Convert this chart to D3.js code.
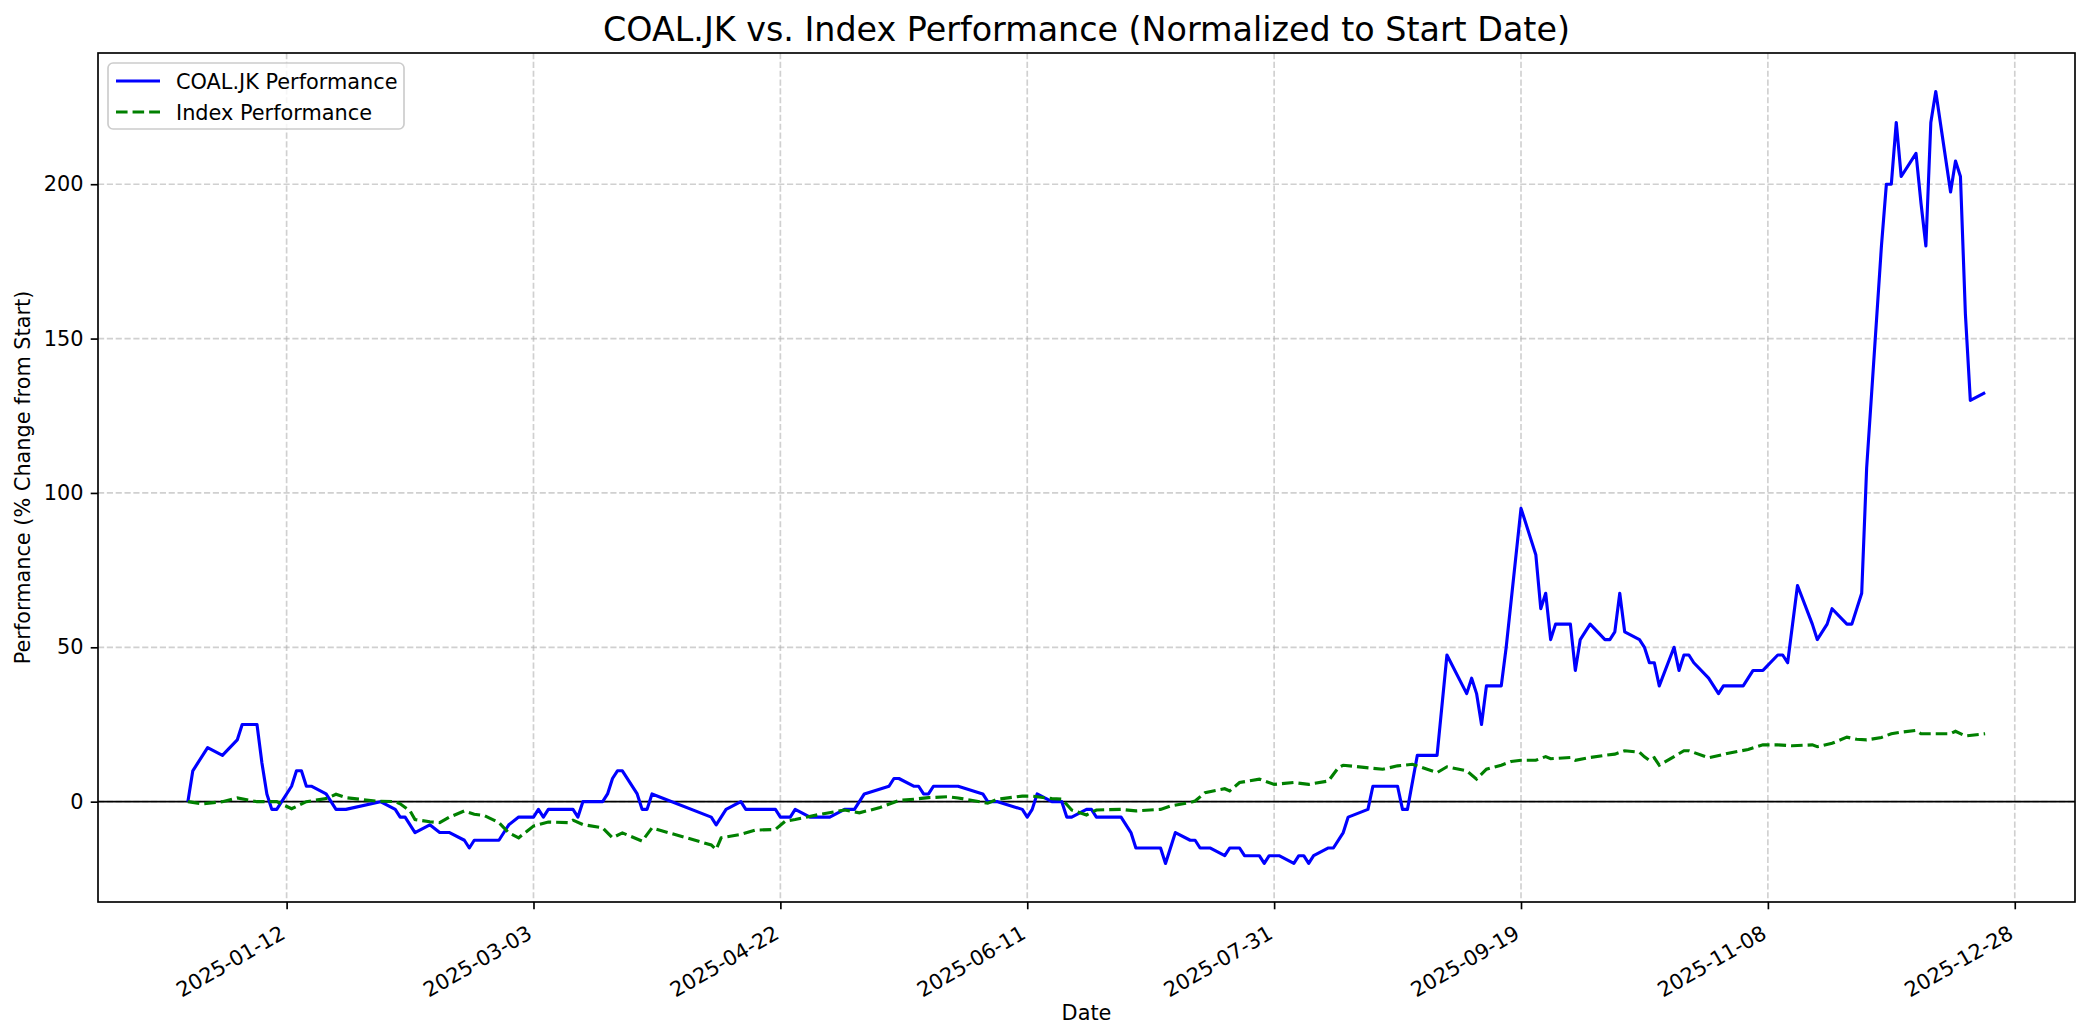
<!DOCTYPE html>
<html>
<head>
<meta charset="utf-8">
<script src="https://cdn.jsdelivr.net/npm/d3@7"></script>
<style>
  body { margin: 0; background: #fff; }
  text { font-family: "DejaVu Sans", sans-serif; }
</style>
</head>
<body>
<div id="chart"></div>
<script>
// COAL.JK, % change from first close
const coalDates = [
  "2024-12-23","2024-12-24","2024-12-27","2024-12-30","2025-01-02","2025-01-03","2025-01-06","2025-01-07",
  "2025-01-08","2025-01-09","2025-01-10","2025-01-13","2025-01-14","2025-01-15","2025-01-16","2025-01-17",
  "2025-01-20","2025-01-22","2025-01-24","2025-01-31","2025-02-03","2025-02-04","2025-02-05","2025-02-07",
  "2025-02-10","2025-02-12","2025-02-14","2025-02-17","2025-02-18","2025-02-19","2025-02-24","2025-02-26",
  "2025-02-28","2025-03-03","2025-03-04","2025-03-05","2025-03-06","2025-03-11","2025-03-12","2025-03-13",
  "2025-03-17","2025-03-18","2025-03-19","2025-03-20","2025-03-21","2025-03-24","2025-03-25","2025-03-26",
  "2025-03-27","2025-04-08","2025-04-09","2025-04-11","2025-04-14","2025-04-15","2025-04-21","2025-04-22",
  "2025-04-24","2025-04-25","2025-04-28","2025-05-02","2025-05-05","2025-05-07","2025-05-09","2025-05-14",
  "2025-05-15","2025-05-16","2025-05-19","2025-05-20","2025-05-21","2025-05-22","2025-05-23","2025-05-28",
  "2025-06-02","2025-06-03","2025-06-05","2025-06-10","2025-06-11","2025-06-12","2025-06-13","2025-06-16",
  "2025-06-18","2025-06-19","2025-06-20","2025-06-23","2025-06-24","2025-06-25","2025-06-30","2025-07-02",
  "2025-07-03","2025-07-08","2025-07-09","2025-07-11","2025-07-14","2025-07-15","2025-07-16","2025-07-18",
  "2025-07-21","2025-07-22","2025-07-24","2025-07-25","2025-07-28","2025-07-29","2025-07-30","2025-08-01",
  "2025-08-04","2025-08-05","2025-08-06","2025-08-07","2025-08-08","2025-08-11","2025-08-12","2025-08-14",
  "2025-08-15","2025-08-19","2025-08-20","2025-08-25","2025-08-26","2025-08-27","2025-08-29","2025-09-02",
  "2025-09-04","2025-09-08","2025-09-09","2025-09-10","2025-09-11","2025-09-12","2025-09-15","2025-09-16",
  "2025-09-19","2025-09-22","2025-09-23","2025-09-24","2025-09-25","2025-09-26","2025-09-29","2025-09-30",
  "2025-10-01","2025-10-03","2025-10-06","2025-10-07","2025-10-08","2025-10-09","2025-10-10","2025-10-13",
  "2025-10-14","2025-10-15","2025-10-16","2025-10-17","2025-10-20","2025-10-21","2025-10-22","2025-10-23",
  "2025-10-24","2025-10-27","2025-10-29","2025-10-30","2025-11-03","2025-11-05","2025-11-07","2025-11-10",
  "2025-11-11","2025-11-12","2025-11-14","2025-11-17","2025-11-18","2025-11-20","2025-11-21","2025-11-24",
  "2025-11-25","2025-11-27","2025-11-28","2025-12-01","2025-12-02","2025-12-03","2025-12-04","2025-12-05",
  "2025-12-08","2025-12-09","2025-12-10","2025-12-11","2025-12-12","2025-12-15","2025-12-16","2025-12-17",
  "2025-12-18","2025-12-19","2025-12-22"
];
const coalValues = [
  0, 10, 17.5, 15, 20, 25, 25, 12.5,
  2.5, -2.5, -2.5, 5, 10, 10, 5, 5,
  2.5, -2.5, -2.5, 0, -2.5, -5, -5, -10,
  -7.5, -10, -10, -12.5, -15, -12.5, -12.5, -7.5,
  -5, -5, -2.5, -5, -2.5, -2.5, -5, 0,
  0, 2.5, 7.5, 10, 10, 2.5, -2.5, -2.5,
  2.5, -5, -7.5, -2.5, 0, -2.5, -2.5, -5,
  -5, -2.5, -5, -5, -2.5, -2.5, 2.5, 5,
  7.5, 7.5, 5, 5, 2.5, 2.5, 5, 5,
  2.5, 0, 0, -2.5, -5, -2.5, 2.5, 0,
  0, -5, -5, -2.5, -2.5, -5, -5, -10,
  -15, -15, -20, -10, -12.5, -12.5, -15, -15,
  -17.5, -15, -15, -17.5, -17.5, -20, -17.5, -17.5,
  -20, -17.5, -17.5, -20, -17.5, -15, -15, -10,
  -5, -2.5, 5, 5, -2.5, -2.5, 15, 15,
  47.5, 35, 40, 35, 25, 37.5, 37.5, 50,
  95, 80, 62.5, 67.5, 52.5, 57.5, 57.5, 42.5,
  52.5, 57.5, 52.5, 52.5, 55, 67.5, 55, 52.5,
  50, 45, 45, 37.5, 50, 42.5, 47.5, 47.5,
  45, 40, 35, 37.5, 37.5, 42.5, 42.5, 47.5,
  47.5, 45, 70, 57.5, 52.5, 57.5, 62.5, 57.5,
  57.5, 67.5, 108, 180, 200, 200, 220, 202.5,
  210, 194, 180, 220, 230, 197.5, 207.5, 202.5,
  158, 130, 132.5
];

// Index, % change from first close
const indexDates = [
  "2024-12-23","2024-12-26","2024-12-30","2025-01-02","2025-01-06","2025-01-10","2025-01-13","2025-01-16",
  "2025-01-20","2025-01-22","2025-01-24","2025-01-30","2025-02-03","2025-02-04","2025-02-06","2025-02-07",
  "2025-02-10","2025-02-12","2025-02-14","2025-02-17","2025-02-19","2025-02-21","2025-02-24","2025-02-26",
  "2025-02-28","2025-03-03","2025-03-06","2025-03-10","2025-03-11","2025-03-13","2025-03-17","2025-03-19",
  "2025-03-21","2025-03-25","2025-03-27","2025-04-08","2025-04-09","2025-04-10","2025-04-14","2025-04-17",
  "2025-04-21","2025-04-23","2025-04-25","2025-04-30","2025-05-05","2025-05-08","2025-05-12","2025-05-16",
  "2025-05-19","2025-05-22","2025-05-26","2025-05-28","2025-06-03","2025-06-05","2025-06-10","2025-06-12",
  "2025-06-16","2025-06-18","2025-06-19","2025-06-20","2025-06-23","2025-06-25","2025-06-30","2025-07-03",
  "2025-07-08","2025-07-10","2025-07-14","2025-07-15","2025-07-17","2025-07-21","2025-07-22","2025-07-24",
  "2025-07-28","2025-07-31","2025-08-04","2025-08-07","2025-08-11","2025-08-13","2025-08-14","2025-08-20",
  "2025-08-22","2025-08-25","2025-08-28","2025-09-02","2025-09-04","2025-09-08","2025-09-10","2025-09-12",
  "2025-09-15","2025-09-17","2025-09-19","2025-09-22","2025-09-24","2025-09-25","2025-09-29","2025-09-30",
  "2025-10-03","2025-10-06","2025-10-08","2025-10-10","2025-10-13","2025-10-14","2025-10-15","2025-10-16",
  "2025-10-17","2025-10-20","2025-10-22","2025-10-23","2025-10-27","2025-10-30","2025-10-31","2025-11-04",
  "2025-11-07","2025-11-10","2025-11-13","2025-11-17","2025-11-18","2025-11-21","2025-11-24","2025-11-26",
  "2025-11-28","2025-12-01","2025-12-03","2025-12-05","2025-12-08","2025-12-09","2025-12-11","2025-12-15",
  "2025-12-16","2025-12-18","2025-12-22"
];
const indexValues = [
  0, -0.7, 0, 1.2, 0, 0, -2.3, 0,
  1, 2.4, 1.3, 0.2, 0, -0.7, -3, -5.8,
  -6.5, -6.8, -5, -3, -4.1, -4.5, -6.8, -10.1,
  -11.7, -7.9, -6.6, -6.8, -6, -7.4, -8.5, -11.7,
  -10.1, -12.8, -8.5, -14, -15.5, -11.7, -10.6, -9.2,
  -9, -6.3, -5.8, -4.1, -2.7, -3.6, -2, 0.4,
  0.8, 1.3, 1.6, 1.2, -0.5, 0.8, 1.8, 1.8,
  1, 0.8, -0.9, -2.7, -4.3, -2.7, -2.5, -3,
  -2.5, -1.4, -0.3, 0.2, 2.9, 4.2, 3.5, 6.2,
  7.3, 5.6, 6.2, 5.6, 6.7, 11, 11.8, 10.8,
  10.5, 11.6, 12.1, 9.4, 11.3, 10, 7.3, 10.5,
  11.8, 13, 13.4, 13.4, 14.6, 13.9, 14.3, 13.4,
  14.3, 15, 15.4, 16.5, 16, 14.5, 13.4, 14.2,
  11.8, 14.6, 16.5, 16.5, 14.2, 15.3, 15.7, 16.9,
  18.4, 18.4, 18.1, 18.4, 17.8, 18.9, 20.9, 20.2,
  20, 20.8, 22, 22.5, 23.1, 22, 22, 22,
  22.8, 21.3, 22
];

const xTickLabels = ["2025-01-12","2025-03-03","2025-04-22","2025-06-11","2025-07-31","2025-09-19","2025-11-08","2025-12-28"];
const yTickValues = [0, 50, 100, 150, 200];
const seriesNames = ["COAL.JK Performance", "Index Performance"];

const W = 2084, H = 1035;
const margin = { top: 53, right: 9, bottom: 133, left: 98 };
const width = W - margin.left - margin.right;
const height = H - margin.top - margin.bottom;
const pt = 150 / 72;

const parse = d3.timeParse("%Y-%m-%d");
const coal = coalDates.map((d, i) => ({ date: parse(d), value: coalValues[i] }));
const index = indexDates.map((d, i) => ({ date: parse(d), value: indexValues[i] }));
const all = coal.concat(index);

// matplotlib-like 5% margins
const xExt = d3.extent(all, d => d.date);
const xPad = (xExt[1] - xExt[0]) * 0.05;
const yExt = d3.extent(all, d => d.value);
const yPad = (yExt[1] - yExt[0]) * 0.05;

const x = d3.scaleTime()
    .domain([new Date(+xExt[0] - xPad), new Date(+xExt[1] + xPad)])
    .range([0, width]);
const y = d3.scaleLinear()
    .domain([yExt[0] - yPad, yExt[1] + yPad])
    .range([height, 0]);

const svg = d3.select("#chart").append("svg")
    .attr("width", W).attr("height", H);

svg.append("text")
    .attr("x", margin.left + width / 2).attr("y", 41)
    .attr("text-anchor", "middle")
    .attr("font-size", 16 * pt)
    .text("COAL.JK vs. Index Performance (Normalized to Start Date)");

const g = svg.append("g").attr("transform", `translate(${margin.left},${margin.top})`);

const xTicks = xTickLabels.map(parse);

// grid
g.append("g").selectAll("line").data(xTicks).join("line")
    .attr("x1", d => x(d)).attr("x2", d => x(d))
    .attr("y1", 0).attr("y2", height)
    .attr("stroke", "#b0b0b0").attr("stroke-opacity", 0.6)
    .attr("stroke-width", 0.8 * pt).attr("stroke-dasharray", `${2.96 * pt},${1.28 * pt}`);
g.append("g").selectAll("line").data(yTickValues).join("line")
    .attr("x1", 0).attr("x2", width)
    .attr("y1", d => y(d)).attr("y2", d => y(d))
    .attr("stroke", "#b0b0b0").attr("stroke-opacity", 0.6)
    .attr("stroke-width", 0.8 * pt).attr("stroke-dasharray", `${2.96 * pt},${1.28 * pt}`);

// zero line
g.append("line")
    .attr("x1", 0).attr("x2", width)
    .attr("y1", y(0)).attr("y2", y(0))
    .attr("stroke", "#000").attr("stroke-width", 0.8 * pt);

const line = d3.line().x(d => x(d.date)).y(d => y(d.value));

g.append("path").datum(coal)
    .attr("d", line).attr("fill", "none")
    .attr("stroke", "blue").attr("stroke-width", 1.5 * pt)
    .attr("stroke-linejoin", "round");

g.append("path").datum(index)
    .attr("d", line).attr("fill", "none")
    .attr("stroke", "green").attr("stroke-width", 1.5 * pt)
    .attr("stroke-dasharray", `${5.55 * pt},${2.4 * pt}`);

// axes
const xAxis = g.append("g")
    .attr("transform", `translate(0,${height})`)
    .call(d3.axisBottom(x).tickValues(xTicks).tickFormat(d3.timeFormat("%Y-%m-%d"))
        .tickSize(3.5 * pt).tickSizeOuter(0).tickPadding(0));
xAxis.select(".domain").remove();
xAxis.selectAll("text")
    .attr("font-size", 10 * pt)
    .attr("text-anchor", "end")
    .attr("dy", "0.76em")
    .attr("transform", `translate(-12,${3.5 * pt + 8}) rotate(-30)`);

const yAxis = g.append("g")
    .call(d3.axisLeft(y).tickValues(yTickValues).tickSize(3.5 * pt).tickSizeOuter(0).tickPadding(3.5 * pt));
yAxis.select(".domain").remove();
yAxis.selectAll("text").attr("font-size", 10 * pt);

g.selectAll(".tick line").attr("stroke", "#000").attr("stroke-width", 0.8 * pt);
g.selectAll(".tick text").attr("fill", "#000").attr("font-family", "DejaVu Sans");

// spines
g.append("rect")
    .attr("width", width).attr("height", height)
    .attr("fill", "none").attr("stroke", "#000").attr("stroke-width", 0.8 * pt);

// axis labels
svg.append("text")
    .attr("x", margin.left + width / 2).attr("y", 1020)
    .attr("text-anchor", "middle").attr("font-size", 10 * pt)
    .text("Date");
svg.append("text")
    .attr("transform", `translate(30,${margin.top + height / 2}) rotate(-90)`)
    .attr("text-anchor", "middle").attr("font-size", 10 * pt)
    .text("Performance (% Change from Start)");

// legend
const legend = svg.append("g").attr("transform", "translate(108,63)");
legend.append("rect")
    .attr("width", 296).attr("height", 66).attr("rx", 5)
    .attr("fill", "#fff").attr("fill-opacity", 0.8)
    .attr("stroke", "#cccccc").attr("stroke-width", 0.8 * pt);
const styles = [
  { color: "blue", dash: null },
  { color: "green", dash: `${5.55 * pt},${2.4 * pt}` }
];
seriesNames.forEach((name, i) => {
  const yy = 18 + i * 31;
  legend.append("line")
      .attr("x1", 8).attr("x2", 52).attr("y1", yy).attr("y2", yy)
      .attr("stroke", styles[i].color).attr("stroke-width", 1.5 * pt)
      .attr("stroke-dasharray", styles[i].dash);
  legend.append("text")
      .attr("x", 68).attr("y", yy).attr("dy", "0.36em")
      .attr("font-size", 10 * pt)
      .text(name);
});
</script>
</body>
</html>
